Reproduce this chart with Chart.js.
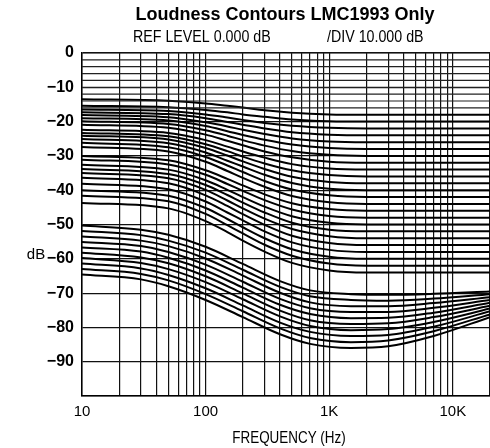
<!DOCTYPE html>
<html>
<head>
<meta charset="utf-8">
<script src="https://cdn.jsdelivr.net/npm/chart.js@4/dist/chart.umd.min.js"></script>
<style>html,body{margin:0;padding:0;background:#fff;}</style>
</head>
<body>
<canvas id="chart" width="490" height="448"></canvas>
<script>
// flat responses (no loudness boost), dB
const flatLevels = [0, -2, -4, -6, -8, -10, -12, -14, -16];
const flatFreqs = [10, 20000];

// upper family: bass boost, flat from ~1k up
const upperFreqs = [10, 50, 100, 150, 200, 300, 500, 1000, 2000, 20000];
const upperCurves = [
  [-13.5, -13.9, -14.7, -15.4, -15.9, -16.7, -17.4, -17.9, -18, -18],
  [-15.4, -15.8, -16.6, -17.3, -17.9, -18.6, -19.4, -19.9, -20, -20],
  [-16.5, -16.9, -17.9, -18.8, -19.5, -20.4, -21.2, -21.8, -22, -22],
  [-17.3, -17.8, -19.0, -20.1, -20.9, -22.0, -23.1, -23.8, -24, -24],
  [-18.1, -18.7, -20.2, -21.4, -22.4, -23.6, -24.9, -25.8, -26, -26],
  [-19.0, -19.7, -21.3, -22.8, -23.9, -25.3, -26.7, -27.7, -28, -28],
  [-19.9, -20.7, -22.5, -24.1, -25.4, -27.0, -28.6, -29.7, -30, -30],
  [-20.9, -21.8, -23.8, -25.6, -26.9, -28.7, -30.4, -31.7, -32, -32],
  [-22.4, -23.3, -25.4, -27.3, -28.7, -30.5, -32.4, -33.7, -34, -34],
  [-23.3, -24.3, -26.6, -28.6, -30.2, -32.2, -34.2, -35.6, -36, -36],
  [-24.1, -25.2, -27.7, -29.9, -31.6, -33.8, -36.1, -37.6, -38, -38],
  [-25.1, -26.3, -29.0, -31.4, -33.1, -35.5, -37.9, -39.6, -40, -40],
  [-26.2, -27.5, -30.3, -32.8, -34.7, -37.3, -39.8, -41.5, -42, -42],
  [-27.4, -28.7, -31.7, -34.4, -36.4, -39.0, -41.7, -43.5, -44, -44],
  [-30.0, -31.3, -34.2, -36.7, -38.6, -41.2, -43.8, -45.5, -46, -46],
  [-31.1, -32.5, -35.5, -38.2, -40.2, -42.9, -45.6, -47.5, -48, -48],
  [-32.6, -34.0, -37.1, -39.9, -42.0, -44.8, -47.6, -49.5, -50, -50],
  [-33.8, -35.3, -38.5, -41.4, -43.6, -46.5, -49.5, -51.5, -52, -52],
  [-35.0, -36.5, -39.9, -43.0, -45.3, -48.3, -51.3, -53.4, -54, -54],
  [-36.4, -38.0, -41.5, -44.6, -47.0, -50.1, -53.3, -55.4, -56, -56],
  [-38.1, -39.7, -43.3, -46.5, -48.8, -52.0, -55.2, -57.4, -58, -58],
  [-40.0, -41.6, -45.2, -48.4, -50.8, -54.0, -57.2, -59.4, -60, -60],
  [-41.6, -43.2, -46.9, -50.2, -52.6, -55.9, -59.1, -61.4, -62, -62],
  [-43.7, -45.3, -49.0, -52.2, -54.7, -57.9, -61.2, -63.4, -64, -64]
];

// lower family: bass + treble boost, dip around 1.5k
const lowerFreqs = [10, 30, 50, 100, 200, 400, 700, 1500, 3000, 7000, 20000];
const lowerCurves = [
  [-50.3, -51.5, -53.0, -56.5, -61.5, -66.5, -69.2, -70.3, -70.5, -70.2, -69.5],
  [-51.9, -53.1, -54.7, -58.2, -63.2, -68.2, -70.9, -72.0, -72.2, -71.6, -70.3],
  [-53.5, -54.7, -56.3, -59.9, -64.9, -69.9, -72.7, -73.8, -73.8, -72.9, -71.2],
  [-55.1, -56.3, -58.0, -61.7, -66.7, -71.7, -74.4, -75.5, -75.5, -74.3, -72.0],
  [-56.7, -57.9, -59.7, -63.4, -68.4, -73.4, -76.1, -77.3, -77.2, -75.7, -72.8],
  [-58.2, -59.6, -61.3, -65.1, -70.1, -75.1, -77.9, -79.0, -78.8, -77.0, -73.7],
  [-59.8, -61.2, -63.0, -66.8, -71.8, -76.8, -79.6, -80.8, -80.5, -78.4, -74.5],
  [-61.4, -62.8, -64.7, -68.6, -73.6, -78.6, -81.3, -82.5, -82.2, -79.8, -75.3],
  [-63.0, -64.4, -66.3, -70.3, -75.3, -80.3, -83.1, -84.3, -83.8, -81.1, -76.2],
  [-64.6, -66.0, -68.0, -72.0, -77.0, -82.0, -84.8, -86.0, -85.5, -82.5, -77.0]
];

// axis
const gridFreqs = [10, 20, 30, 40, 50, 60, 70, 80, 90,
  100, 200, 300, 400, 500, 600, 700, 800, 900,
  1000, 2000, 3000, 4000, 5000, 6000, 7000, 8000, 9000, 10000, 20000];
const xTickValues = [10, 100, 1000, 10000];
const xTickLabels = ['10', '100', '1K', '10K'];
const yTickLabels = ['0', '\u221210', '\u221220', '\u221230', '\u221240', '\u221250',
  '\u221260', '\u221270', '\u221280', '\u221290'];

const title = 'Loudness Contours LMC1993 Only';
const refText = 'REF LEVEL 0.000 dB';
const divText = '/DIV 10.000 dB';

function pts(freqs, vals) {
  return freqs.map((f, i) => ({x: f, y: vals[i]}));
}

const datasets = [];
flatLevels.forEach(l => {
  datasets.push({data: pts(flatFreqs, [l, l]), borderColor: '#222', borderWidth: 1.2});
});
upperCurves.forEach(c => {
  datasets.push({data: pts(upperFreqs, c), borderColor: '#000', borderWidth: 2});
});
lowerCurves.forEach(c => {
  datasets.push({data: pts(lowerFreqs, c), borderColor: '#000', borderWidth: 2});
});

// narrow text, squeezed horizontally
function narrow(ctx, txt, x, y, sx, align) {
  ctx.save();
  ctx.translate(x, y);
  ctx.scale(sx, 1);
  ctx.textAlign = align;
  ctx.fillText(txt, 0, 0);
  ctx.restore();
}

const textPlugin = {
  id: 'texts',
  afterDraw(chart) {
    const ctx = chart.ctx;
    ctx.save();
    ctx.fillStyle = '#000';
    ctx.textBaseline = 'alphabetic';
    ctx.textAlign = 'center';
    ctx.font = 'bold 18px "Liberation Sans", Arial, sans-serif';
    ctx.fillText(title, 285, 20);
    ctx.font = '16px "Liberation Sans", Arial, sans-serif';
    narrow(ctx, refText, 133, 42, 0.89, 'left');
    narrow(ctx, divText, 327, 42, 0.89, 'left');
    narrow(ctx, 'FREQUENCY (Hz)', 289, 443, 0.84, 'center');
    ctx.font = '15px "Liberation Sans", Arial, sans-serif';
    narrow(ctx, 'dB', 36, 259, 1, 'center');
    ctx.restore();
  }
};

Chart.defaults.font.family = '"Liberation Sans", Arial, sans-serif';
Chart.defaults.color = '#000';

new Chart(document.getElementById('chart').getContext('2d'), {
  type: 'line',
  data: {datasets},
  options: {
    responsive: false,
    animation: false,
    devicePixelRatio: 1,
    layout: {padding: {top: 53, right: 0, bottom: 0, left: 0}},
    elements: {
      point: {radius: 0},
      line: {cubicInterpolationMode: 'monotone', fill: false}
    },
    plugins: {legend: {display: false}, tooltip: {enabled: false}},
    scales: {
      x: {
        type: 'logarithmic',
        min: 10,
        max: 20000,
        afterBuildTicks: s => { s.ticks = gridFreqs.map(v => ({value: v})); },
        afterFit: s => { s.height = 52; },
        grid: {color: '#111', lineWidth: 1.2, drawTicks: true, tickLength: 7, tickColor: 'rgba(0,0,0,0)'},
        border: {color: '#000', width: 1.5},
        ticks: {
          autoSkip: false, maxRotation: 0, padding: 0,
          font: {size: 15},
          callback: v => { const i = xTickValues.indexOf(v); return i < 0 ? '' : xTickLabels[i]; }
        }
      },
      y: {
        min: -100,
        max: 0,
        afterFit: s => { s.width = 82; },
        grid: {color: '#111', lineWidth: 1.2, drawTicks: false},
        border: {color: '#000', width: 1.5},
        ticks: {
          stepSize: 10, padding: 8,
          font: {size: 16, weight: 'bold'},
          callback: (v) => { const i = Math.round(-v / 10); return yTickLabels[i] || ''; }
        }
      }
    }
  },
  plugins: [textPlugin]
});
</script>
</body>
</html>
